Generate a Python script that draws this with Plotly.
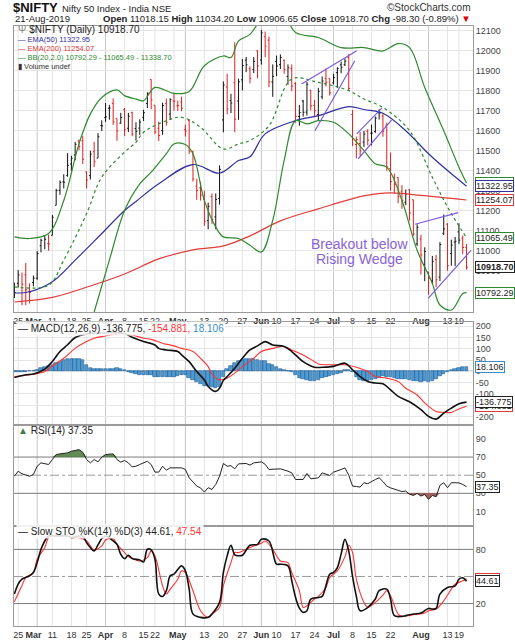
import pandas as pd
import plotly.graph_objects as go

# NSE trading days 22-Feb-2019 .. 21-Aug-2019
holidays = ["2019-03-04", "2019-03-21", "2019-04-17", "2019-04-19", "2019-04-29",
            "2019-05-01", "2019-06-05", "2019-08-12", "2019-08-15"]
dates = [d.strftime("%Y-%m-%d") for d in pd.bdate_range("2019-02-22", "2019-08-21")
         if d.strftime("%Y-%m-%d") not in holidays]
day = list(range(len(dates)))

opens = [10782, 10838, 10747, 10881, 10798, 10842, 10864, 11026, 11077, 11036,
         11078, 11228, 11302, 11345, 11376, 11434, 11479, 11549, 11550, 11395,
         11376, 11495, 11463, 11626, 11665, 11712, 11736, 11660, 11638, 11705,
         11612, 11690, 11611, 11613, 11667, 11736, 11856, 11727, 11612, 11601,
         11735, 11683, 11748, 11725, 11744, 11605, 11651, 11495, 11323, 11315,
         11258, 11151, 11271, 11170, 11262, 11654, 11818, 11751, 11840, 11748,
         11854, 11952, 11909, 11906, 11999, 11953, 12069, 12052, 11843, 11945,
         11930, 11952, 11871, 11910, 11836, 11671, 11748, 11693, 11802, 11726,
         11681, 11769, 11861, 11861, 11839, 11890, 11929, 11929, 11965, 11681,
         11531, 11536, 11543, 11597, 11587, 11596, 11690, 11673, 11628, 11411,
         11365, 11366, 11295, 11243, 11305, 11255, 11035, 11060, 10930, 10895,
         10852, 10958, 10870, 11088, 11134, 10987, 11044, 11095, 11063, 11018.15]
highs = [10842, 10904, 10892, 10940, 10838, 10877, 11000, 11062, 11079, 11082,
         11180, 11310, 11352, 11383, 11488, 11475, 11544, 11556, 11573, 11396,
         11500, 11545, 11588, 11652, 11738, 11729, 11761, 11660, 11689, 11713,
         11689, 11695, 11642, 11657, 11704, 11791, 11856, 11727, 11645, 11740,
         11760, 11762, 11789, 11750, 11770, 11630, 11657, 11500, 11360, 11345,
         11300, 11241, 11287, 11287, 11427, 11846, 11884, 11784, 12041, 11860,
         11958, 11968, 11921, 11968, 12000, 12103, 12095, 12070, 11931, 11975,
         11981, 11955, 11931, 11931, 11842, 11728, 11754, 11843, 11803, 11754,
         11814, 11871, 11911, 11861, 11884, 11917, 11945, 11961, 11982, 11703,
         11570, 11594, 11599, 11608, 11631, 11671, 11707, 11686, 11640, 11491,
         11386, 11367, 11328, 11306, 11307, 11256, 11133, 11081, 11018, 10895,
         10975, 10980, 11044, 11182, 11138, 11056, 11070, 11138, 11077, 11034.20]
lows = [10765, 10817, 10729, 10729, 10738, 10823, 10856, 10993, 11008, 11001,
        11078, 11228, 11280, 11312, 11370, 11399, 11452, 11503, 11434, 11311,
        11356, 11419, 11463, 11598, 11644, 11655, 11629, 11550, 11635, 11573,
        11593, 11572, 11550, 11579, 11648, 11713, 11707, 11583, 11549, 11579,
        11625, 11655, 11700, 11700, 11697, 11571, 11484, 11346, 11255, 11251,
        11125, 11108, 11135, 11108, 11231, 11592, 11682, 11688, 11592, 11654,
        11801, 11892, 11836, 11887, 11862, 11930, 11967, 11818, 11769, 11872,
        11908, 11884, 11830, 11797, 11640, 11625, 11670, 11675, 11702, 11670,
        11651, 11757, 11821, 11775, 11831, 11814, 11887, 11923, 11798, 11523,
        11462, 11475, 11519, 11527, 11527, 11589, 11656, 11570, 11400, 11301,
        11287, 11238, 11210, 11228, 11152, 11074, 11025, 10882, 10849, 10782,
        10834, 10819, 10850, 11079, 10901, 10926, 10924, 11035, 10984, 10906.65]
closes = [10792, 10880, 10835, 10806, 10792, 10864, 10987, 11053, 11058, 11035,
          11168, 11301, 11342, 11343, 11427, 11462, 11532, 11521, 11457, 11354,
          11483, 11445, 11570, 11624, 11669, 11713, 11644, 11598, 11666, 11605,
          11672, 11584, 11597, 11643, 11690, 11787, 11753, 11594, 11576, 11726,
          11642, 11755, 11748, 11725, 11712, 11598, 11498, 11359, 11302, 11279,
          11148, 11222, 11157, 11257, 11407, 11828, 11709, 11738, 11657, 11844,
          11925, 11929, 11861, 11946, 11923, 12089, 12022, 11844, 11871, 11923,
          11966, 11906, 11914, 11823, 11672, 11691, 11692, 11832, 11724, 11700,
          11796, 11848, 11842, 11789, 11866, 11910, 11917, 11947, 11811, 11559,
          11556, 11499, 11583, 11553, 11588, 11663, 11688, 11597, 11419, 11346,
          11331, 11271, 11252, 11284, 11189, 11085, 11118, 10980, 10997, 10863,
          10948, 10856, 11032, 11110, 10926, 11029, 11048, 11054, 11017, 10918.70]

# overlays (trading-day number, value)
ema200_day = [0, 10, 20, 29, 38, 47, 55, 62, 70, 80, 92, 99, 107, 119]
ema200 = [10745, 10768, 10825, 10885, 10960, 11005, 11025, 11075, 11150, 11210, 11275, 11290, 11277, 11254.07]
ema50_day = [0, 4, 10, 16, 23, 29, 32, 38, 47, 54, 59, 62, 66, 74, 80, 88, 92, 97, 103, 109, 114, 119]
ema50 = [10790, 10796, 10846, 10954, 11087, 11202, 11247, 11335, 11431, 11388, 11451, 11470,
         11584, 11650, 11675, 11720, 11706, 11687, 11600, 11485, 11401, 11322.95]
bbmid_day = [0, 9, 13, 19, 23, 29, 32, 34, 40, 44, 49, 55, 59, 62, 67, 73, 80, 88, 92, 97, 104, 110, 114, 119]
bbmid = [10821, 10829, 10954, 11186, 11368, 11493, 11542, 11592, 11650, 11667, 11617, 11509,
         11534, 11551, 11625, 11858, 11841, 11800, 11758, 11716, 11600, 11368, 11219, 11065.49]
bbup_day = [0, 4, 9, 13, 17, 20, 23, 27, 29, 32, 34, 37, 42, 46, 50, 55, 57, 59, 62, 65, 68, 71,
            74, 80, 86, 92, 97, 101, 104, 108, 113, 117, 119]
bbup = [11070, 11062, 11087, 11252, 11534, 11684, 11766, 11804, 11775, 11758, 11750, 11816, 11786,
        11796, 11924, 11973, 11965, 12048, 12081, 12160, 12210, 12180, 12090, 12065, 12015, 12015,
        11998, 12035, 12015, 11816, 11600, 11418, 11338.70]
bblo_day = [21, 25, 29, 33, 36, 40, 42, 45, 47, 50, 53, 55, 59, 62, 65, 68, 71, 74, 77, 80, 84,
            88, 92, 95, 98, 102, 106, 110, 112, 115, 118, 119]
bblo = [10695, 10954, 11202, 11335, 11393, 11485, 11534, 11531, 11485, 11252, 11119, 11070, 11062,
        11028, 10995, 11153, 11451, 11650, 11634, 11650, 11642, 11584, 11501, 11435, 11418, 11252,
        11003, 10838, 10730, 10705, 10788, 10792.29]

# trendlines drawn on the chart: (day, price) pairs
wedges = [((75.6, 11833), (90.1, 11999)), ((79.1, 11600), (89.6, 11949)),
          ((90.1, 11584), (96.7, 11713)), ((90.5, 11460), (99.3, 11654)),
          ((105.4, 11133), (116.8, 11191)), ((108.9, 10763), (120.2, 11003))]

macd_day = [0, 3, 5, 8, 10, 12, 14, 16, 19, 23, 26, 29, 31, 34, 35, 37, 38, 40, 43, 44, 46, 48,
            50, 51, 53, 54, 55, 56, 58, 60, 62, 64, 66, 68, 71, 73, 76, 79, 81, 84, 87, 89, 91,
            93, 95, 97, 99, 101, 104, 107, 109, 111, 113, 115, 117, 119]
macd = [-27, -15, -12, 10, 44, 88, 118, 150, 166, 170, 172, 168, 151, 132, 128, 117, 102, 95,
        88, 73, 43, -1, -38, -67, -89, -75, -40, -23, 14, 58, 95, 113, 132, 117, 110, 88, 43,
        18, 18, 22, 36, 7, -23, -45, -52, -55, -82, -111, -135, -170, -200, -212, -185, -163,
        -144, -136.775]
signal_day = [0, 5, 8, 10, 13, 16, 19, 21, 24, 26, 29, 31, 34, 36, 39, 42, 44, 47, 49, 51, 52,
              54, 56, 58, 60, 63, 65, 68, 71, 73, 76, 79, 80, 83, 87, 90, 93, 95, 98, 101, 103,
              106, 108, 111, 113, 115, 117, 119]
signal = [-23, -13, -1, 24, 58, 102, 132, 147, 157, 164, 166, 161, 147, 142, 125, 113, 102, 88,
          58, 21, -13, -38, -30, -8, 21, 58, 88, 102, 110, 95, 73, 43, 33, 29, 29, 18, -1, -23,
          -30, -45, -75, -105, -140, -178, -182, -182, -167, -154.881]
hist = [-4, -3, -2, -1, 0, 3, 8, 13, 18, 22, 26, 36, 43, 50, 54, 55, 55, 54, 50, 29,
        14, 10, 9, 10, 10, 10, 11, 13, 12, 4, -4, -6, -13, -15, -15, -15, -15, -24, -26, -26,
        -25, -23, -23, -22, -16, -16, -30, -38, -46, -58, -64, -66, -70, -75, -70, -25, 12, 24, 38, 46,
        52, 55, 54, 53, 50, 46, 44, 34, 28, 18, 9, 6, 3, -4, -18, -28, -36, -40, -42, -41,
        -38, -30, -24, -22, -16, -12, -6, 4, 7, -2, -26, -40, -45, -45, -40, -36, -28, -22, -24, -26,
        -28, -32, -34, -35, -38, -44, -45, -46, -45, -46, -42, -34, -20, -12, -2, 6, 9, 15, 18, 18.106]

rsi_day = [0, 1, 2, 4, 5, 6, 7, 9, 10, 11, 12, 14, 15, 17, 18, 19, 20, 21, 22, 23, 24, 26, 27,
           28, 29, 30, 31, 32, 33, 35, 36, 37, 38, 39, 40, 41, 44, 45, 46, 48, 49, 50, 51, 52,
           53, 54, 55, 56, 57, 58, 59, 61, 62, 63, 65, 66, 67, 68, 70, 72, 73, 74, 76, 77, 78,
           80, 81, 83, 84, 86, 87, 88, 89, 90, 91, 92, 93, 95, 96, 97, 98, 99, 100, 101, 102,
           103, 104, 105, 106, 107, 108, 109, 110, 111, 112, 113, 114, 115, 116, 117, 118, 119]
rsi = [48.9, 54.4, 51.5, 48.9, 50.8, 59.9, 63.6, 61.8, 67.3, 72.8, 73.5, 74.6, 76.4, 78.2, 75.3,
       67.3, 63.6, 67.3, 64.7, 69.9, 72.8, 73.5, 67.3, 64.4, 66.2, 63.6, 59.2, 59.9, 61.8, 65.4,
       61.8, 53.4, 53.4, 59.9, 55.5, 58.1, 58.1, 56.3, 47.1, 38.0, 36.0, 31.4, 36.2, 34.3, 39.8,
       48.9, 62.9, 59.9, 60.5, 57.0, 62.5, 62.9, 61.1, 63.6, 64.7, 62.0, 56.3, 56.3, 57.0, 54.4,
       52.6, 45.3, 45.3, 51.9, 46.0, 47.1, 52.6, 49.7, 53.4, 56.3, 58.1, 50.0, 38.0, 37.5, 36.9,
       41.7, 40.6, 45.3, 47.1, 43.0, 38.0, 36.0, 34.3, 33.3, 32.0, 32.5, 29.0, 27.7, 29.9, 27.0,
       28.8, 23.3, 27.7, 26.3, 38.8, 41.7, 36.2, 41.7, 41.7, 41.5, 39.8, 37.35]

stok_day = [0, 1, 2, 4, 5, 6, 7, 8, 9, 11, 14, 15, 16, 18, 19, 20, 21, 22, 23, 24, 26, 27, 28,
            29, 30, 31, 33, 34, 35, 36, 37, 38, 39, 40, 41, 42, 44, 45, 46, 47, 49, 51, 52, 54,
            55, 56, 57, 58, 59, 60, 62, 64, 65, 67, 69, 70, 72, 73, 74, 75, 76, 77, 78, 80, 81,
            83, 84, 85, 86, 87, 88, 89, 90, 91, 93, 95, 96, 98, 99, 100, 102, 103, 105, 107, 109,
            110, 111, 112, 114, 116, 117, 118, 119]
stok = [30.5, 41.5, 47.0, 50.7, 54.4, 65.4, 80.1, 89.3, 94.8, 94.8, 94.8, 93.0, 94.1, 94.8, 87.5,
        82.0, 78.3, 85.0, 92.0, 94.8, 89.3, 85.6, 74.6, 69.8, 73.5, 69.8, 68.3, 66.1, 80.1, 79.4,
        69.1, 30.5, 27.9, 34.2, 50.7, 52.5, 61.7, 56.2, 36.0, 8.4, 4.7, 4.7, 8.4, 21.3, 54.4, 72.8,
        84.5, 74.0, 73.0, 73.5, 84.5, 85.6, 91.1, 89.3, 63.6, 63.6, 61.7, 45.2, 26.8, 15.0, 10.3,
        12.1, 25.0, 26.8, 27.9, 52.5, 54.4, 59.9, 75.0, 91.1, 78.0, 50.0, 28.0, 12.1, 15.7, 25.0,
        34.2, 36.0, 25.0, 6.6, 5.8, 6.6, 8.4, 9.5, 14.6, 13.9, 14.6, 30.5, 37.8, 39.6, 47.0, 48.5,
        44.61]
stod_day = [0, 2, 3, 5, 6, 8, 9, 10, 14, 15, 17, 19, 21, 23, 24, 26, 27, 29, 30, 31, 33, 35, 36,
            37, 39, 40, 41, 43, 44, 45, 47, 49, 51, 52, 54, 55, 57, 58, 59, 61, 63, 65, 66, 68,
            70, 72, 73, 75, 76, 77, 79, 80, 82, 83, 85, 87, 88, 89, 90, 92, 93, 95, 97, 98, 99,
            101, 102, 105, 108, 109, 111, 113, 115, 116, 118, 119]
stod = [22.0, 40.0, 48.8, 54.4, 69.1, 82.0, 93.0, 94.8, 94.8, 93.0, 93.0, 89.3, 79.4, 83.8, 90.4,
        91.9, 85.6, 76.5, 72.1, 69.8, 67.2, 70.9, 78.3, 72.8, 39.6, 30.5, 36.0, 47.0, 56.2, 54.4,
        34.2, 12.1, 4.7, 8.4, 15.7, 39.6, 65.4, 76.5, 76.5, 80.1, 83.8, 86.7, 89.3, 80.1, 67.2,
        65.4, 54.4, 34.2, 15.7, 17.6, 25.0, 27.9, 37.8, 48.8, 56.2, 72.0, 84.5, 76.5, 47.0, 21.3,
        15.7, 21.3, 29.4, 34.2, 28.6, 8.4, 5.8, 7.7, 9.5, 12.1, 13.9, 23.1, 36.0, 41.5, 45.2, 47.54]

tick_day = [1, 5, 10, 15, 19, 24, 29, 34, 37, 43, 50, 55, 60, 65, 69, 74, 79, 84, 89, 94, 99, 107, 114, 117]
tick_lbl = ["25", "<b>Mar</b>", "11", "18", "25", "<b>Apr</b>", "8", "15", "22", "<b>May</b>", "13",
            "20", "27", "<b>Jun</b>", "10", "17", "24", "<b>Jul</b>", "8", "15", "22", "<b>Aug</b>", "13", "19"]
week_day = [1, 6, 10, 15, 19, 24, 29, 34, 37, 42, 45, 50, 55, 60, 65, 69, 74, 79, 84, 89, 94, 99, 104, 109, 114, 117]
month_day = [6, 24, 45, 65, 84, 109]

assert len(dates) == len(opens) == len(highs) == len(lows) == len(closes) == len(hist) == 120

FONT = "Liberation Sans, Arial, sans-serif"
GREEN, BLUE, RED, PURP = "#2f8a2f", "#30309e", "#e23b3b", "#7c5ce0"
W, H = 515, 640
ML, MR = 14, 42
PW = W - ML - MR

fig = go.Figure()

def line(xs, ys, color, width=1, dash=None, axis=1, shape="spline"):
    fig.add_trace(go.Scatter(x=xs, y=ys, mode="lines", line=dict(color=color, width=width, dash=dash, shape=shape),
                             xaxis="x" if axis == 1 else f"x{axis}", yaxis="y" if axis == 1 else f"y{axis}",
                             hoverinfo="skip"))

# --- price panel
line(ema200_day, ema200, RED, 1.2)
line(ema50_day, ema50, BLUE, 1.2)
line(bbup_day, bbup, GREEN, 1.2)
line(bblo_day, bblo, GREEN, 1.2)
line(bbmid_day, bbmid, GREEN, 1.2, dash="dot")
for (x0, y0), (x1, y1) in wedges:
    line([x0, x1], [y0, y1], PURP, 1.2, shape="linear")

up = [i for i in day if closes[i] >= (closes[i - 1] if i else opens[i])]
dn = [i for i in day if i not in up]
for idx, col in ((up, "#111111"), (dn, "#e01e1e")):
    fig.add_trace(go.Ohlc(x=idx, open=[opens[i] for i in idx], high=[highs[i] for i in idx],
                          low=[lows[i] for i in idx], close=[closes[i] for i in idx],
                          increasing_line_color=col, decreasing_line_color=col,
                          line_width=1, tickwidth=0.35, hoverinfo="skip"))

# --- MACD panel
fig.add_trace(go.Bar(x=day, y=hist, width=0.9, marker=dict(color="#4f9bd0", line=dict(color="#1d5a96", width=0.6)),
                     xaxis="x2", yaxis="y2", hoverinfo="skip"))
line(signal_day, signal, "#ff3333", 1.1, axis=2)
line(macd_day, macd, "#111111", 1.6, axis=2)

# --- RSI panel with over-bought / over-sold shading
fig.add_trace(go.Scatter(x=rsi_day, y=[70] * len(rsi_day), mode="lines", line=dict(width=0),
                         xaxis="x3", yaxis="y3", hoverinfo="skip"))
fig.add_trace(go.Scatter(x=rsi_day, y=[max(v, 70) for v in rsi], mode="lines", line=dict(width=0),
                         fill="tonexty", fillcolor="rgba(70,120,55,0.85)", xaxis="x3", yaxis="y3", hoverinfo="skip"))
fig.add_trace(go.Scatter(x=rsi_day, y=[30] * len(rsi_day), mode="lines", line=dict(width=0),
                         xaxis="x3", yaxis="y3", hoverinfo="skip"))
fig.add_trace(go.Scatter(x=rsi_day, y=[min(v, 30) for v in rsi], mode="lines", line=dict(width=0),
                         fill="tonexty", fillcolor="rgba(150,70,70,0.85)", xaxis="x3", yaxis="y3", hoverinfo="skip"))
line(rsi_day, rsi, "#222222", 1, axis=3, shape="linear")

# --- Slow stochastics
line(stod_day, stod, "#ff3333", 1.1, axis=4)
line(stok_day, stok, "#111111", 1.6, axis=4)

# --- axes
def py(p):
    return 1 - p / H

def px(p):
    return (p - ML) / PW

XA = dict(range=[-0.1, 120.7], showgrid=False, zeroline=False, showline=True, linecolor="#9a9a9a",
          mirror=True, ticks="", tickvals=tick_day, ticktext=tick_lbl, tickangle=0, fixedrange=True,
          tickfont=dict(size=9, color="#333"), rangeslider=dict(visible=False))
YA = dict(side="right", showline=True, linecolor="#9a9a9a", mirror=True, zeroline=False, ticks="",
          tickfont=dict(size=9, color="#444"), fixedrange=True)

price_ticks = list(range(10800, 12101, 100))
macd_ticks = list(range(-200, 201, 50))
fig.update_layout(
    width=W, height=H, margin=dict(l=ML, r=MR, t=0, b=0), showlegend=False,
    paper_bgcolor="white", plot_bgcolor="white", font=dict(family=FONT, size=10, color="#333"),
    bargap=0,
    xaxis=dict(XA, anchor="y"),
    xaxis2=dict(XA, anchor="y2", matches="x", showticklabels=False),
    xaxis3=dict(XA, anchor="y3", matches="x", showticklabels=False),
    xaxis4=dict(XA, anchor="y4", matches="x"),
    yaxis=dict(YA, anchor="x", domain=[py(312), py(25)], range=[10695, 12123], tickvals=price_ticks,
               ticktext=[str(v) for v in price_ticks], showgrid=True, gridcolor="#e6e6e6"),
    yaxis2=dict(YA, anchor="x2", domain=[py(425), py(322)], range=[-236.7, 219], tickvals=macd_ticks,
                ticktext=[str(v) for v in macd_ticks], showgrid=True, gridcolor="#e6e6e6"),
    yaxis3=dict(YA, anchor="x3", domain=[py(527), py(425)], range=[-6.4, 105.7], tickvals=[10, 30, 50, 70, 90],
                ticktext=["10", "30", "50", "70", "90"], showgrid=False),
    yaxis4=dict(YA, anchor="x4", domain=[py(627), py(527)], range=[-4.9, 105.5], tickvals=[20, 50, 80],
                ticktext=["20", "50", "80"], showgrid=False),
)

# weekly vertical grid, darker at month start
shapes = []
for k in ("", "2", "3", "4"):
    for d in week_day:
        shapes.append(dict(type="line", xref="x" + k, yref=f"y{k} domain", x0=d, x1=d, y0=0, y1=1, layer="below",
                           line=dict(color="#c6c6c6" if d in month_day else "#e4e4e4", width=1)))
shapes.append(dict(type="line", xref="x2 domain", yref="y2", x0=0, x1=1, y0=0, y1=0, layer="below",
                   line=dict(color="#b4b4b4", width=1.5)))
for k, lvls in (("3", (70, 30)), ("4", (80, 20))):
    for v in lvls:
        shapes.append(dict(type="line", xref=f"x{k} domain", yref="y" + k, x0=0, x1=1, y0=v, y1=v, layer="below",
                           line=dict(color="#7a7a7a", width=1)))
    shapes.append(dict(type="line", xref=f"x{k} domain", yref="y" + k, x0=0, x1=1, y0=50, y1=50, layer="below",
                       line=dict(color="#9a9a9a", width=1, dash="dashdot")))
fig.update_layout(shapes=shapes)

def note(x, y, text, size=10, color="#222", anchor="left", **kw):
    fig.add_annotation(x=px(x), y=py(y), xref="paper", yref="paper", text=text, showarrow=False,
                       xanchor=anchor, yanchor="middle", font=dict(family=FONT, size=size, color=color), **kw)

def tag(yref, v, text, color, bold=False):
    fig.add_annotation(x=px(475), xref="paper", y=v, yref=yref, xanchor="left", yanchor="middle",
                       text=f"<b>{text}</b>" if bold else text, showarrow=False,
                       font=dict(family=FONT, size=9, color="#222"), bgcolor="white",
                       bordercolor=color, borderwidth=1, borderpad=0)

# header
note(11, 7, "<b>$NIFTY</b>", 13, "#111")
note(60, 7.5, "Nifty 50 Index - India NSE", 9.5, "#222")
note(473, 7, "©StockCharts.com", 10, "#333", anchor="right")
note(13, 18, "21-Aug-2019", 9.5, "#222")
note(473, 18, "<b>Open</b> 11018.15 <b>High</b> 11034.20 <b>Low</b> 10906.65 <b>Close</b> 10918.70 "
              "<b>Chg</b> -98.30 (-0.89%) <span style='color:#d00'>▼</span>", 9.5, "#222", anchor="right")

# price legend
note(16, 29, "<span style='color:#888'>Ψ</span> $NIFTY (Daily) 10918.70", 10, "#222")
note(16, 39, "— EMA(50) 11322.95", 7.5, BLUE)
note(16, 48, "— EMA(200) 11254.07", 7.5, RED)
note(16, 57, "— BB(20,2.0) 10792.29 - 11065.49 - 11338.70", 7.5, GREEN)
note(16, 65.5, "▮ Volume undef", 7.5, "#333")
note(359, 244, "Breakout below", 14, "#8a63d8", anchor="center")
note(359, 259, "Rising Wedge", 14, "#8a63d8", anchor="center")

# lower panel legends
note(16, 329, "— MACD(12,26,9) -136.775, <span style='color:#f33'>-154.881,</span> "
              "<span style='color:#3a8cc8'>18.106</span>", 10, "#222", bgcolor="rgba(255,255,255,0.85)")
note(16, 431, "<span style='color:#46783a'>▲</span> RSI(14) 37.35", 10, "#222")
note(16, 532.5, "— Slow STO %K(14) %D(3) 44.61, <span style='color:#f33'>47.54</span>", 10, "#222",
     bgcolor="rgba(255,255,255,0.85)")

# value tags on the right edge
tag("y", 11338.70, "11338.70", GREEN)
tag("y", 11322.95, "11322.95", BLUE)
tag("y", 11254.07, "11254.07", RED)
tag("y", 11065.49, "11065.49", GREEN)
tag("y", 10918.70, "10918.70", "#222", bold=True)
tag("y", 10792.29, "10792.29", GREEN)
tag("y2", 18.106, "18.106", "#3a8cc8")
tag("y2", -154.881, "-154.881", RED)
tag("y2", -136.775, "-136.775", "#222")
tag("y3", 37.35, "37.35", "#222")
tag("y4", 47.54, "47.54", RED)
tag("y4", 44.61, "44.61", "#222")

fig.write_html("out.html", config={"displayModeBar": False},
               post_script="document.body.style.margin='0';document.body.style.overflow='hidden';")
